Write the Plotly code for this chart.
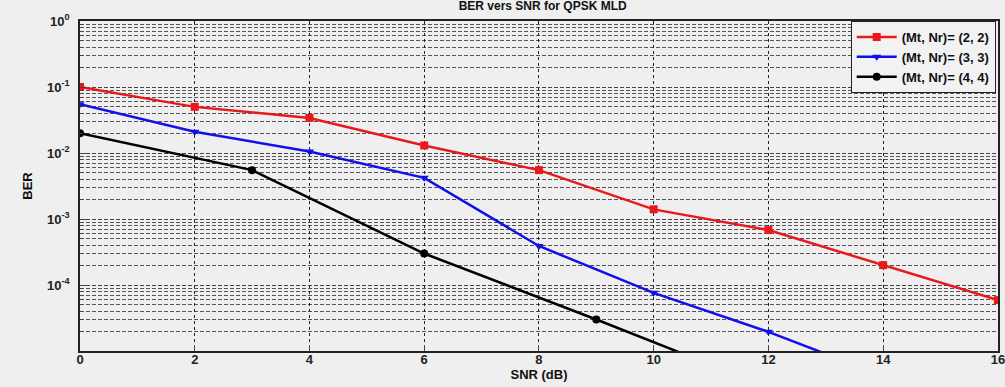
import plotly.graph_objects as go

snr_22 = [0, 2, 4, 6, 8, 10, 12, 14, 16]
ber_22 = [0.1, 0.05, 0.034, 0.013, 0.0055, 0.0014, 0.00068, 0.0002, 0.000059]

snr_33 = [0, 2, 4, 6, 8, 10, 12, 14]
ber_33 = [0.055, 0.021, 0.0105, 0.0042, 0.00039, 0.000076, 0.0000195, 0.0000042]

snr_44 = [0, 3, 6, 9, 12]
ber_44 = [0.02, 0.0055, 0.0003, 0.00003, 0.0000028]

names = ["(Mt, Nr)= (2, 2)", "(Mt, Nr)= (3, 3)", "(Mt, Nr)= (4, 4)"]
colors = ["#e8191c", "#1010e8", "#000000"]
symbols = ["square", "triangle-down", "circle"]

x_ticks = [0, 2, 4, 6, 8, 10, 12, 14, 16]
y_ticks = [1, 0.1, 0.01, 0.001, 0.0001]
y_ticktext = ["10<sup>0</sup>", "10<sup>-1</sup>", "10<sup>-2</sup>", "10<sup>-3</sup>", "10<sup>-4</sup>"]

fig = go.Figure()
for xs, ys, n, c, s in zip([snr_22, snr_33, snr_44], [ber_22, ber_33, ber_44], names, colors, symbols):
    fig.add_trace(go.Scatter(x=xs, y=ys, name=n, mode="lines+markers",
                             line=dict(color=c, width=2.5),
                             marker=dict(symbol=s, size=8, color=c)))

tickfont = dict(family="Liberation Sans, Arial", size=13, color="#222", weight="bold")
fig.update_layout(
    width=1005, height=387,
    margin=dict(l=80, r=5, t=21, b=36),
    paper_bgcolor="#efefef", plot_bgcolor="#efefef",
    font=dict(family="Liberation Sans, Arial", size=12, color="#111"),
    title=dict(text="<b>BER vers SNR for QPSK MLD</b>", x=0.54, xanchor="center",
               y=0.995, yref="container", yanchor="top", font=dict(size=12, color="#111")),
    showlegend=True,
    legend=dict(x=0.9975, y=1.0, xanchor="right", yanchor="top",
                bgcolor="#f2f2f2", bordercolor="#222", borderwidth=1,
                font=dict(size=13, color="#111", weight="bold"), tracegroupgap=0, itemwidth=40),
    xaxis=dict(range=[0, 16.002], tickvals=x_ticks, ticks="inside", ticklen=6,
               tickfont=tickfont, ticklabelstandoff=-4, ticklabeloverflow="allow",
               automargin=False,
               showgrid=True, gridcolor="#222", griddash="dot", gridwidth=1,
               showline=True, linecolor="#222", linewidth=1.5, mirror=True,
               zeroline=False,
               title=dict(text="<b>SNR (dB)</b>", standoff=0, font=dict(size=13))),
    yaxis=dict(type="log", range=[-5, 0], tickvals=y_ticks, ticktext=y_ticktext,
               ticks="inside", ticklen=6, tickfont=tickfont, ticklabelstandoff=6,
               showgrid=True, gridcolor="#444", griddash="4px,2px", gridwidth=1,
               minor=dict(dtick="D1", showgrid=True, gridcolor="#555", griddash="4px,2px",
                          gridwidth=1, ticks="inside", ticklen=3),
               showline=True, linecolor="#222", linewidth=1.5, mirror=True,
               zeroline=False,
               title=dict(text="<b>BER</b>", standoff=12, font=dict(size=13))),
)
fig.write_html("out.html", config={"displayModeBar": False},
               post_script="document.body.style.margin='0';document.body.style.background='#efefef';")
